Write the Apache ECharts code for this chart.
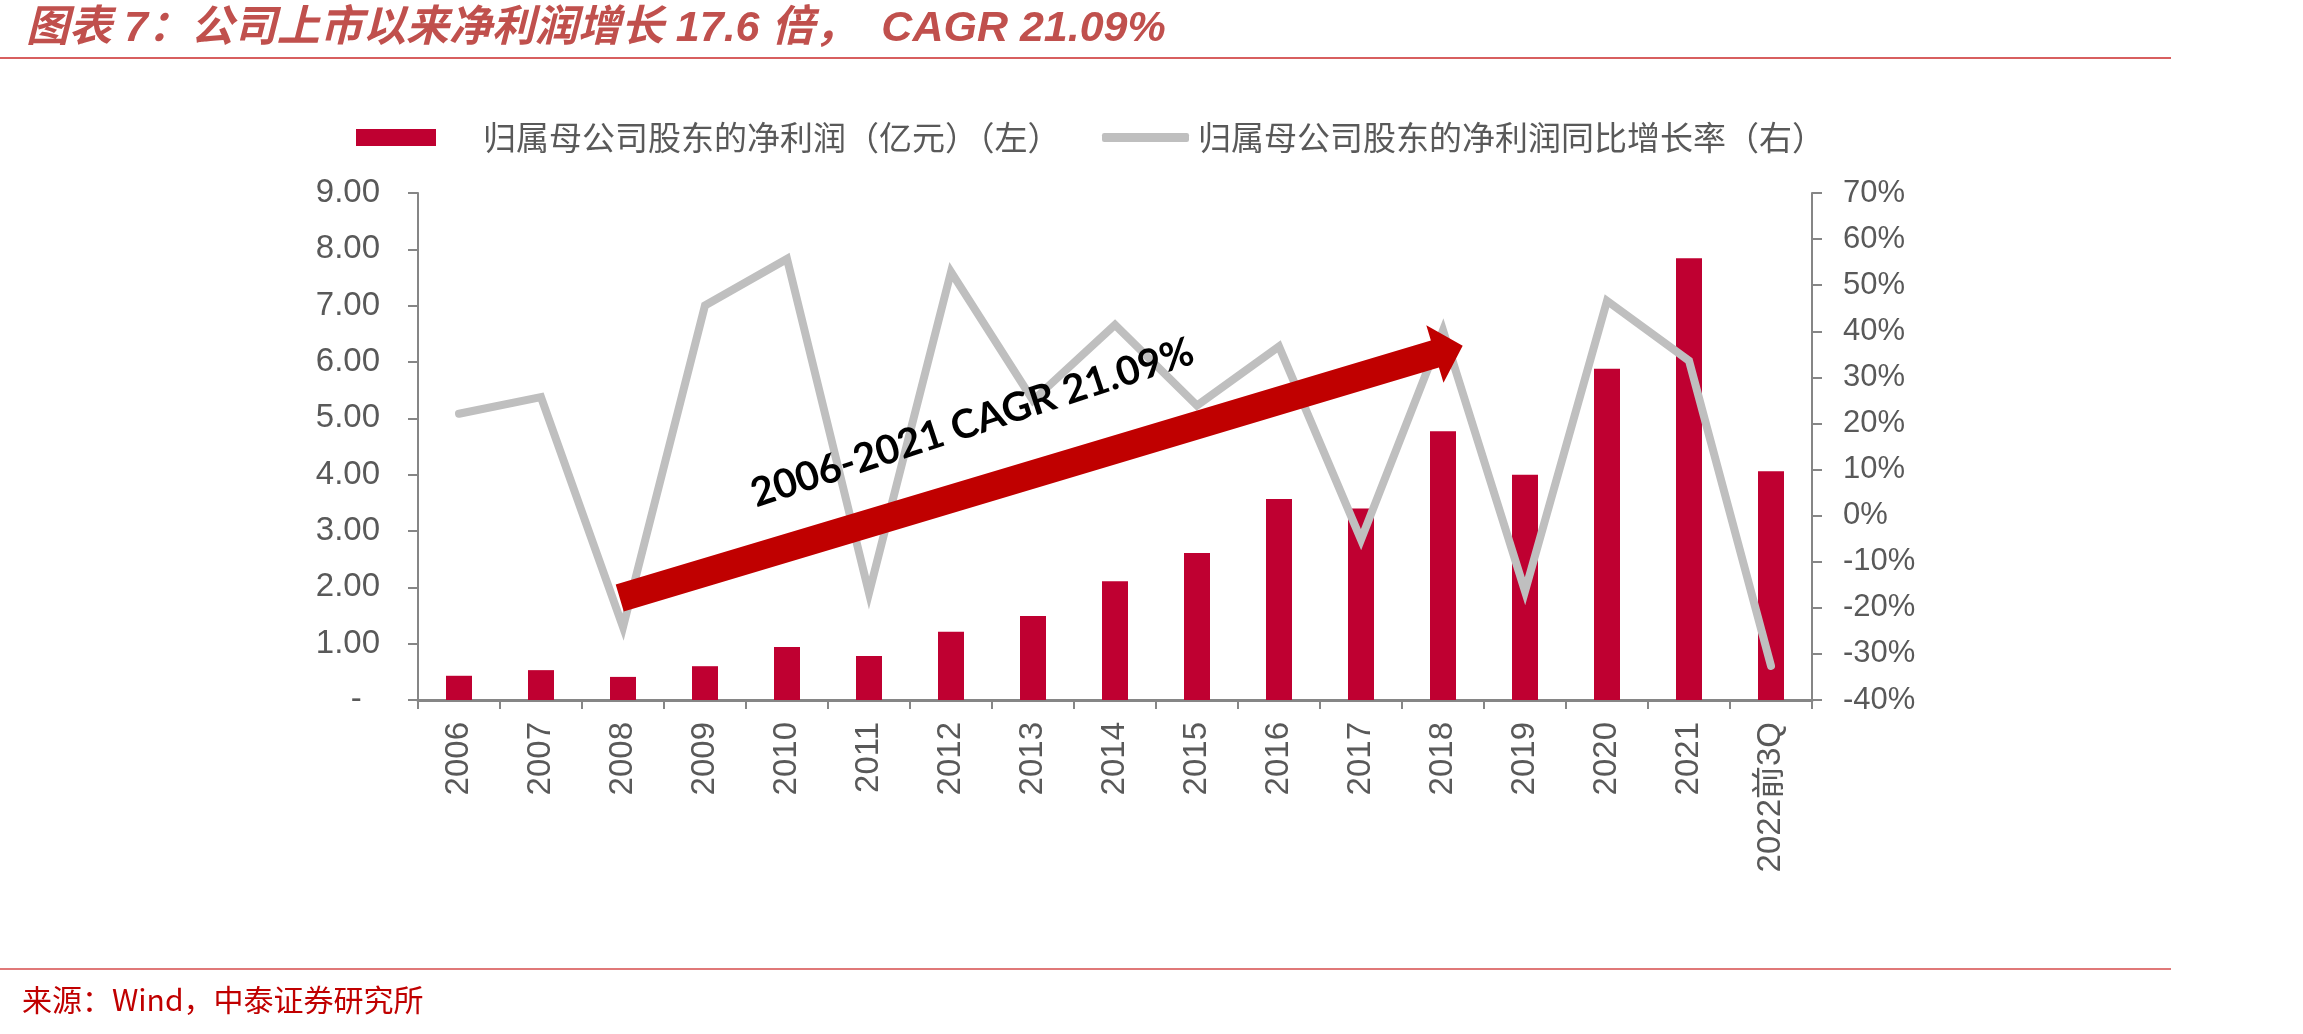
<!DOCTYPE html>
<html>
<head>
<meta charset="utf-8">
<script src="https://cdn.jsdelivr.net/npm/echarts@6/dist/echarts.min.js"></script>
<style>
  html, body { margin: 0; padding: 0; background: #fff; }
  #chart { width: 2303px; height: 1034px; }
</style>
</head>
<body>
<div id="chart"></div>
<script>
// 数据：归母净利润（亿元）与同比增速（%）
const categories = ['2006', '2007', '2008', '2009', '2010', '2011', '2012', '2013', '2014',
  '2015', '2016', '2017', '2018', '2019', '2020', '2021', '2022前3Q'];
const netProfit = [0.43, 0.53, 0.41, 0.60, 0.94, 0.78, 1.21, 1.49, 2.11,
  2.61, 3.57, 3.40, 4.77, 4.00, 5.88, 7.84, 4.06];
const yoyGrowth = [22.1, 25.7, -24.2, 45.6, 55.7, -16.8, 52.9, 25.0, 41.4,
  23.9, 36.7, -5.2, 40.2, -16.4, 46.6, 33.6, -32.6];

const leftTicks = { min: 0, max: 9, interval: 1 };
const rightTicks = { min: -40, max: 70, interval: 10 };

const barName = '归属母公司股东的净利润（亿元）（左）';
const lineName = '归属母公司股东的净利润同比增长率（右）';
const titleText = '图表 7：公司上市以来净利润增长 17.6 倍，  CAGR 21.09%';
const sourceText = '来源：Wind，中泰证券研究所';
const cagrText = '2006-2021 CAGR 21.09%';

// 箭头起止点（类目索引，左轴数值）
const arrowFrom = [1.96, 1.81];
const arrowTo = [12.24, 6.29];
const cagrLabelAt = [6.26, 4.92];

const AXIS_COLOR = '#868686';
const LABEL_COLOR = '#595959';
const LATIN_FONT = '"Liberation Sans", Arial, "Noto Sans CJK SC", sans-serif';

const chart = echarts.init(document.getElementById('chart'));

const option = {
  backgroundColor: '#fff',
  animation: false,
  grid: { left: 418, right: 491, top: 193, bottom: 334 },
  legend: [
    {
      left: 356, top: 121, padding: 0,
      itemWidth: 80, itemHeight: 17,
      data: [{ name: barName, icon: 'rect' }],
      textStyle: { fontFamily: 'Noto Sans CJK SC', fontSize: 33, color: LABEL_COLOR, padding: [0, 0, 0, 42] }
    },
    {
      left: 1102, top: 121, padding: 0,
      itemWidth: 87, itemHeight: 9,
      data: [{ name: lineName, icon: 'roundRect' }],
      textStyle: { fontFamily: 'Noto Sans CJK SC', fontSize: 33, color: LABEL_COLOR, padding: [0, 0, 0, 4] }
    }
  ],
  xAxis: {
    type: 'category',
    data: categories,
    axisLine: { lineStyle: { color: AXIS_COLOR, width: 3 } },
    axisTick: { show: true, length: 9, lineStyle: { color: AXIS_COLOR, width: 2 } },
    axisLabel: {
      interval: 0, rotate: 90, margin: 22,
      fontFamily: LATIN_FONT, fontSize: 33, color: LABEL_COLOR
    },
    splitLine: { show: false }
  },
  yAxis: [
    {
      type: 'value',
      min: leftTicks.min, max: leftTicks.max, interval: leftTicks.interval,
      axisLine: { show: true, lineStyle: { color: AXIS_COLOR, width: 2 } },
      axisTick: { show: true, length: 10, lineStyle: { color: AXIS_COLOR, width: 2 } },
      axisLabel: {
        margin: 38, fontFamily: LATIN_FONT, fontSize: 33, color: LABEL_COLOR,
        formatter: v => (v === 0 ? '-  ' : v.toFixed(2))
      },
      splitLine: { show: false }
    },
    {
      type: 'value',
      position: 'right',
      min: rightTicks.min, max: rightTicks.max, interval: rightTicks.interval,
      axisLine: { show: true, lineStyle: { color: AXIS_COLOR, width: 2 } },
      axisTick: { show: true, length: 10, lineStyle: { color: AXIS_COLOR, width: 2 } },
      axisLabel: {
        margin: 31, fontFamily: LATIN_FONT, fontSize: 31, color: LABEL_COLOR,
        formatter: v => v + '%'
      },
      splitLine: { show: false }
    }
  ],
  series: [
    {
      name: barName,
      type: 'bar',
      data: netProfit,
      barWidth: 26,
      itemStyle: { color: '#BF0031' },
      z: 2
    },
    {
      name: lineName,
      type: 'line',
      yAxisIndex: 1,
      data: yoyGrowth,
      color: '#BFBFBF',
      showSymbol: false,
      symbol: 'none',
      lineStyle: { color: '#BFBFBF', width: 8, cap: 'round', join: 'miter' },
      z: 3
    }
  ],
  graphic: [
    {
      type: 'text', left: 26, top: 8,
      style: {
        text: titleText,
        fontFamily: LATIN_FONT, fontSize: 43, fontWeight: 'bold', fontStyle: 'italic',
        fill: '#C0504D'
      }
    },
    {
      type: 'line',
      shape: { x1: 0, y1: 58, x2: 2171, y2: 58 },
      style: { stroke: '#D85F5F', lineWidth: 2 }
    },
    {
      type: 'line',
      shape: { x1: 0, y1: 969, x2: 2171, y2: 969 },
      style: { stroke: '#E07878', lineWidth: 2 }
    },
    {
      type: 'text', left: 22, top: 985,
      style: {
        text: sourceText,
        fontFamily: '"Noto Sans CJK SC", sans-serif', fontSize: 30,
        fill: '#C00000'
      }
    }
  ]
};

chart.setOption(option);

// 类目索引（可为小数）+ 左轴数值 -> 像素
function toPixel(pt) {
  const x0 = chart.convertToPixel({ xAxisIndex: 0 }, categories[0]);
  const x1 = chart.convertToPixel({ xAxisIndex: 0 }, categories[1]);
  const y = chart.convertToPixel({ yAxisIndex: 0 }, pt[1]);
  return [x0 + (x1 - x0) * pt[0], y];
}

// CAGR 箭头与文字
const s = toPixel(arrowFrom);
const t = toPixel(arrowTo);
const len = Math.hypot(t[0] - s[0], t[1] - s[1]);
const u = [(t[0] - s[0]) / len, (t[1] - s[1]) / len];
const n = [-u[1], u[0]];
const shaftHalf = 14, headHalf = 30, headLen = 29;
const b = [t[0] - u[0] * headLen, t[1] - u[1] * headLen];
const pts = [
  [s[0] + n[0] * shaftHalf, s[1] + n[1] * shaftHalf],
  [b[0] + n[0] * shaftHalf, b[1] + n[1] * shaftHalf],
  [b[0] + n[0] * headHalf, b[1] + n[1] * headHalf],
  t,
  [b[0] - n[0] * headHalf, b[1] - n[1] * headHalf],
  [b[0] - n[0] * shaftHalf, b[1] - n[1] * shaftHalf],
  [s[0] - n[0] * shaftHalf, s[1] - n[1] * shaftHalf]
];
const lp = toPixel(cagrLabelAt);

chart.setOption({
  graphic: option.graphic.concat([
    {
      type: 'polygon', z: 10,
      shape: { points: pts },
      style: { fill: '#C00000' }
    },
    {
      type: 'text', z: 11,
      x: lp[0], y: lp[1],
      rotation: 18.2 * Math.PI / 180,
      style: {
        text: cagrText,
        fontFamily: 'Lato, "Open Sans", sans-serif', fontSize: 40, fontWeight: 'bold',
        fill: '#000', align: 'center', verticalAlign: 'middle'
      }
    }
  ])
});
</script>
</body>
</html>
